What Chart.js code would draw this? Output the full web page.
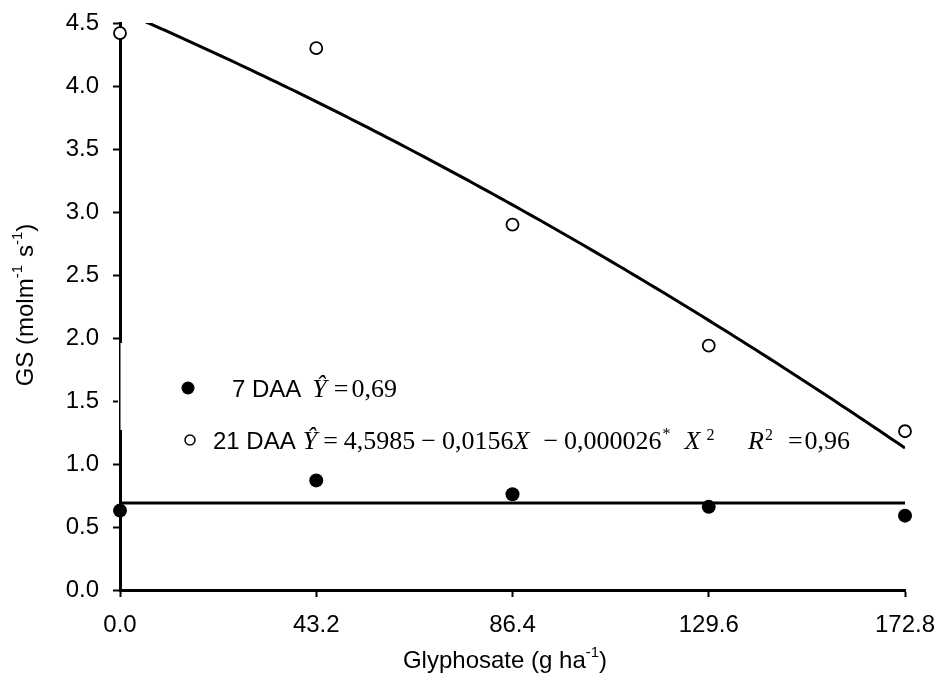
<!DOCTYPE html>
<html>
<head>
<meta charset="utf-8">
<script src="https://cdn.jsdelivr.net/npm/chart.js@4.4.0/dist/chart.umd.min.js"></script>
<style>
  html, body { margin: 0; padding: 0; background: #fff; }
</style>
</head>
<body>
<canvas id="gsChart" width="941" height="695"></canvas>
<script>
(function () {
  // Glyphosate doses (g ha-1) and stomatal conductance readings
  const doses = [0, 43.2, 86.4, 129.6, 172.8];
  const gs7daa = [0.63, 0.87, 0.76, 0.66, 0.59];
  const gs21daa = [4.42, 4.30, 2.90, 1.94, 1.26];
  const mean7daa = 0.69;
  // quadratic fit for 21 DAA: b0 + b1*X + b2*X^2
  const fit21daa = [4.5985, -0.0156, -0.000026];
  const yTicks = [0, 0.5, 1, 1.5, 2, 2.5, 3, 3.5, 4, 4.5];

  const SANS = '"Liberation Sans", Arial, sans-serif';
  const SERIF = '"Liberation Serif", "Times New Roman", serif';

  const toPoints = (xs, ys) => xs.map((x, i) => ({ x: x, y: ys[i] }));

  let fitCurve = [];
  const xMax = doses[doses.length - 1];
  for (let i = 0; i <= 120; i++) {
    const x = (xMax * i) / 120;
    fitCurve.push({ x: x, y: fit21daa[0] + fit21daa[1] * x + fit21daa[2] * x * x });
  }

  // draws a list of text runs one after another, optionally centred on x
  function drawRuns(ctx, x, y, runs, centre) {
    let total = 0;
    runs.forEach((r) => {
      ctx.font = r.font;
      total += ctx.measureText(r.t).width + (r.gap || 0);
    });
    let cx = centre ? x - total / 2 : x;
    runs.forEach((r) => {
      ctx.font = r.font;
      ctx.fillText(r.t, cx, y + (r.dy || 0));
      cx += ctx.measureText(r.t).width + (r.gap || 0);
    });
  }

  const annotations = {
    id: 'annotations',
    afterDraw(chart) {
      const ctx = chart.ctx;
      const xs = chart.scales.x;
      const ys = chart.scales.y;
      ctx.save();

      // the y axis runs thin behind the legend block
      const gTop = ys.getPixelForValue(1.96);
      const gBot = ys.getPixelForValue(1.27);
      const ax = xs.getPixelForValue(0);
      ctx.fillStyle = '#fff';
      ctx.fillRect(ax - 2, gTop, 5, gBot - gTop);
      ctx.fillStyle = '#000';
      ctx.fillRect(ax - 1, gTop, 1.5, gBot - gTop);

      ctx.strokeStyle = '#000';
      ctx.textAlign = 'left';
      ctx.textBaseline = 'alphabetic';

      // legend markers
      ctx.beginPath();
      ctx.arc(188, 388, 6.5, 0, Math.PI * 2);
      ctx.fill();
      ctx.beginPath();
      ctx.lineWidth = 1.5;
      ctx.arc(190, 440, 5, 0, Math.PI * 2);
      ctx.stroke();

      const sans = '24px ' + SANS;
      const ser = '26px ' + SERIF;
      const serIt = 'italic 26px ' + SERIF;
      const sup = '16px ' + SERIF;

      drawRuns(ctx, 232, 397, [
        { t: '7 DAA', font: sans, gap: 11 },
        { t: '\u0176', font: serIt, gap: 7 },
        { t: '=', font: ser, gap: 3 },
        { t: '0,69', font: ser },
      ]);

      drawRuns(ctx, 213, 449, [
        { t: '21 DAA', font: sans, gap: 7 },
        { t: '\u0176', font: serIt, gap: 6 },
        { t: '=', font: ser, gap: 6 },
        { t: '4,5985', font: ser, gap: 6 },
        { t: '\u2212', font: ser, gap: 6 },
        { t: '0,0156', font: ser },
        { t: 'X', font: serIt, gap: 14 },
        { t: '\u2212', font: ser, gap: 6 },
        { t: '0,000026', font: ser, gap: 1 },
        { t: '*', font: sup, dy: -10, gap: 14 },
        { t: 'X', font: serIt, gap: 6 },
        { t: '2', font: sup, dy: -9 },
      ]);
      drawRuns(ctx, 748, 449, [
        { t: 'R', font: serIt, gap: 1 },
        { t: '2', font: sup, dy: -9, gap: 15 },
        { t: '=', font: ser, gap: 2 },
        { t: '0,96', font: ser },
      ]);

      // axis titles
      const tf = '24px ' + SANS;
      const tsup = '15px ' + SANS;
      drawRuns(ctx, 505, 668, [
        { t: 'Glyphosate (g ha', font: tf },
        { t: '-1', font: tsup, dy: -11 },
        { t: ')', font: tf },
      ], true);

      ctx.translate(33, 305);
      ctx.rotate(-Math.PI / 2);
      drawRuns(ctx, 0, 0, [
        { t: 'GS (molm', font: tf },
        { t: '-1', font: tsup, dy: -11, gap: 8 },
        { t: 's', font: tf },
        { t: '-1', font: tsup, dy: -11 },
        { t: ')', font: tf },
      ], true);

      ctx.restore();
    },
  };

  const data = {
    datasets: [
      {
        label: '21 DAA fit',
        data: fitCurve,
        showLine: true,
        borderColor: '#000',
        borderWidth: 3,
        pointRadius: 0,
        tension: 0,
      },
      {
        label: '7 DAA mean',
        data: [{ x: 0, y: mean7daa }, { x: xMax, y: mean7daa }],
        showLine: true,
        borderColor: '#000',
        borderWidth: 3,
        pointRadius: 0,
      },
      {
        label: '21 DAA',
        data: toPoints(doses, gs21daa),
        pointRadius: 6,
        pointBorderWidth: 1.8,
        pointBackgroundColor: '#fff',
        pointBorderColor: '#000',
        clip: false,
      },
      {
        label: '7 DAA',
        data: toPoints(doses, gs7daa),
        pointRadius: 7,
        pointBorderWidth: 0,
        pointBackgroundColor: '#000',
        pointBorderColor: '#000',
        clip: false,
      },
    ],
  };

  // keep tick-label overflow from pushing the plot area inwards
  const noOverflowX = (scale) => {
    scale.height = 105;
    scale.paddingLeft = 0;
    scale.paddingRight = 0;
  };
  const noOverflowY = (scale) => {
    scale.width = 120;
    scale.paddingTop = 0;
    scale.paddingBottom = 0;
  };

  const config = {
    type: 'scatter',
    data,
    options: {
      responsive: false,
      animation: false,
      devicePixelRatio: 1,
      layout: { padding: { top: 23, right: 36, left: 0, bottom: 0 } },
      plugins: {
        legend: { display: false },
        tooltip: { enabled: false },
      },
      scales: {
        x: {
          type: 'linear',
          min: 0,
          max: xMax,
          afterBuildTicks: (scale) => {
            scale.ticks = doses.map((v) => ({ value: v }));
          },
          afterFit: noOverflowX,
          border: { display: true, color: '#000', width: 3 },
          grid: { drawOnChartArea: false, drawTicks: true, tickLength: 7, tickColor: '#000', tickWidth: 2 },
          ticks: {
            color: '#000',
            padding: 14,
            maxRotation: 0,
            font: { family: SANS, size: 24 },
            callback: (v) => Number(v).toFixed(1),
          },
        },
        y: {
          type: 'linear',
          min: 0,
          max: 4.5,
          afterBuildTicks: (scale) => {
            scale.ticks = yTicks.map((v) => ({ value: v }));
          },
          afterFit: noOverflowY,
          border: { display: true, color: '#000', width: 3 },
          grid: { drawOnChartArea: false, drawTicks: true, tickLength: 7, tickColor: '#000', tickWidth: 2 },
          ticks: {
            color: '#000',
            padding: 14,
            font: { family: SANS, size: 24 },
            callback: (v) => Number(v).toFixed(1),
          },
        },
      },
    },
    plugins: [annotations],
  };

  const gsChart = new Chart(document.getElementById('gsChart'), config);
})();
</script>
</body>
</html>
